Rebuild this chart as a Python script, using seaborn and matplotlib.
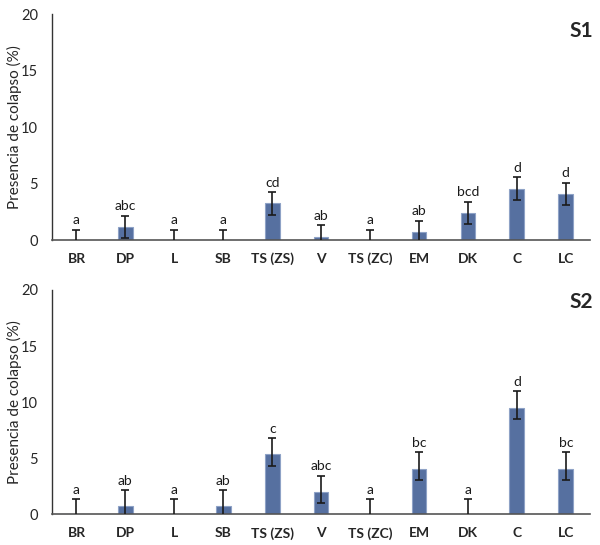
import matplotlib
matplotlib.use("Agg")
import matplotlib.pyplot as plt
import seaborn as sns
import pandas as pd
import numpy as np

categories = ["BR", "DP", "L", "SB", "TS (ZS)", "V", "TS (ZC)", "EM", "DK", "C", "LC"]

s1_values = [0, 1.15, 0, 0, 3.3, 0.3, 0, 0.75, 2.4, 4.5, 4.1]
s1_err_up = [0.9, 1.0, 0.9, 0.9, 0.95, 1.0, 0.9, 0.97, 1.0, 1.05, 0.98]
s1_err_low = [0.9, 1.0, 0.9, 0.9, 1.07, 1.0, 0.9, 1.0, 1.0, 1.0, 0.98]
s1_letters = ["a", "abc", "a", "a", "cd", "ab", "a", "ab", "bcd", "d", "d"]

s2_values = [0, 0.77, 0, 0.77, 5.35, 2.0, 0, 4.05, 0, 9.5, 4.05]
s2_err_up = [1.34, 1.37, 1.34, 1.37, 1.43, 1.46, 1.34, 1.49, 1.34, 1.48, 1.49]
s2_err_low = [1.0, 1.0, 1.0, 1.0, 1.04, 1.0, 1.0, 1.0, 1.0, 0.96, 1.0]
s2_letters = ["a", "ab", "a", "ab", "c", "abc", "a", "bc", "a", "d", "bc"]

panel_labels = ["S1", "S2"]
y_ticks = [0, 5, 10, 15, 20]
y_label = "Presencia de colapso (%)"

sns.set_style("white")
plt.rcParams["font.family"] = ["Lato", "DejaVu Sans"]

fig = plt.figure(figsize=(6.0, 5.45), dpi=100)
axes = [fig.add_axes([0.0867, 0.5596, 0.897, 0.4147]),
        fig.add_axes([0.0867, 0.056, 0.897, 0.412])]

bar_color = "#5670a0"
edge_color = "#8ea2c6"

panels = [(s1_values, s1_err_up, s1_err_low, s1_letters),
          (s2_values, s2_err_up, s2_err_low, s2_letters)]

for ax, (vals, eu, el, lets), plab in zip(axes, panels, panel_labels):
    df = pd.DataFrame({"cat": categories, "val": vals})
    sns.barplot(data=df, x="cat", y="val", ax=ax, color=bar_color,
                width=0.3, saturation=1, edgecolor=edge_color, linewidth=0.8)
    xs = np.arange(len(categories))
    ax.errorbar(xs, vals, yerr=[el, eu], fmt="none", ecolor="#1a1a1a",
                elinewidth=1.2, capsize=3, capthick=1.2, zorder=5)
    for x, v, u, t in zip(xs, vals, eu, lets):
        ax.text(x, v + u + 0.3, t, ha="center", va="bottom", fontsize=10,
                color="#1a1a1a")
    ax.set_ylim(0, 20)
    ax.set_xlim(-0.5, len(categories) - 0.5)
    ax.set_yticks(y_ticks)
    ax.set_yticklabels([str(t) for t in y_ticks], fontsize=10.5)
    ax.set_xticks(xs)
    ax.set_xticklabels(categories, fontsize=10, fontweight="bold")
    ax.tick_params(axis="both", length=0)
    ax.tick_params(axis="y", pad=10)
    ax.tick_params(axis="x", pad=9)
    ax.set_xlabel("")
    ax.set_ylabel(y_label, fontsize=11)
    ax.yaxis.set_label_coords(-0.056, 0.5)
    for s in ["top", "right"]:
        ax.spines[s].set_visible(False)
    ax.spines["left"].set_color("#333333")
    ax.spines["left"].set_linewidth(1.0)
    ax.spines["bottom"].set_color("#555555")
    ax.spines["bottom"].set_linewidth(1.2)
    ax.text(1.006, 0.925 if plab == "S1" else 0.947, plab, transform=ax.transAxes,
            ha="right", va="center", fontsize=15, fontweight="bold")

fig.savefig("out.png", dpi=100)
